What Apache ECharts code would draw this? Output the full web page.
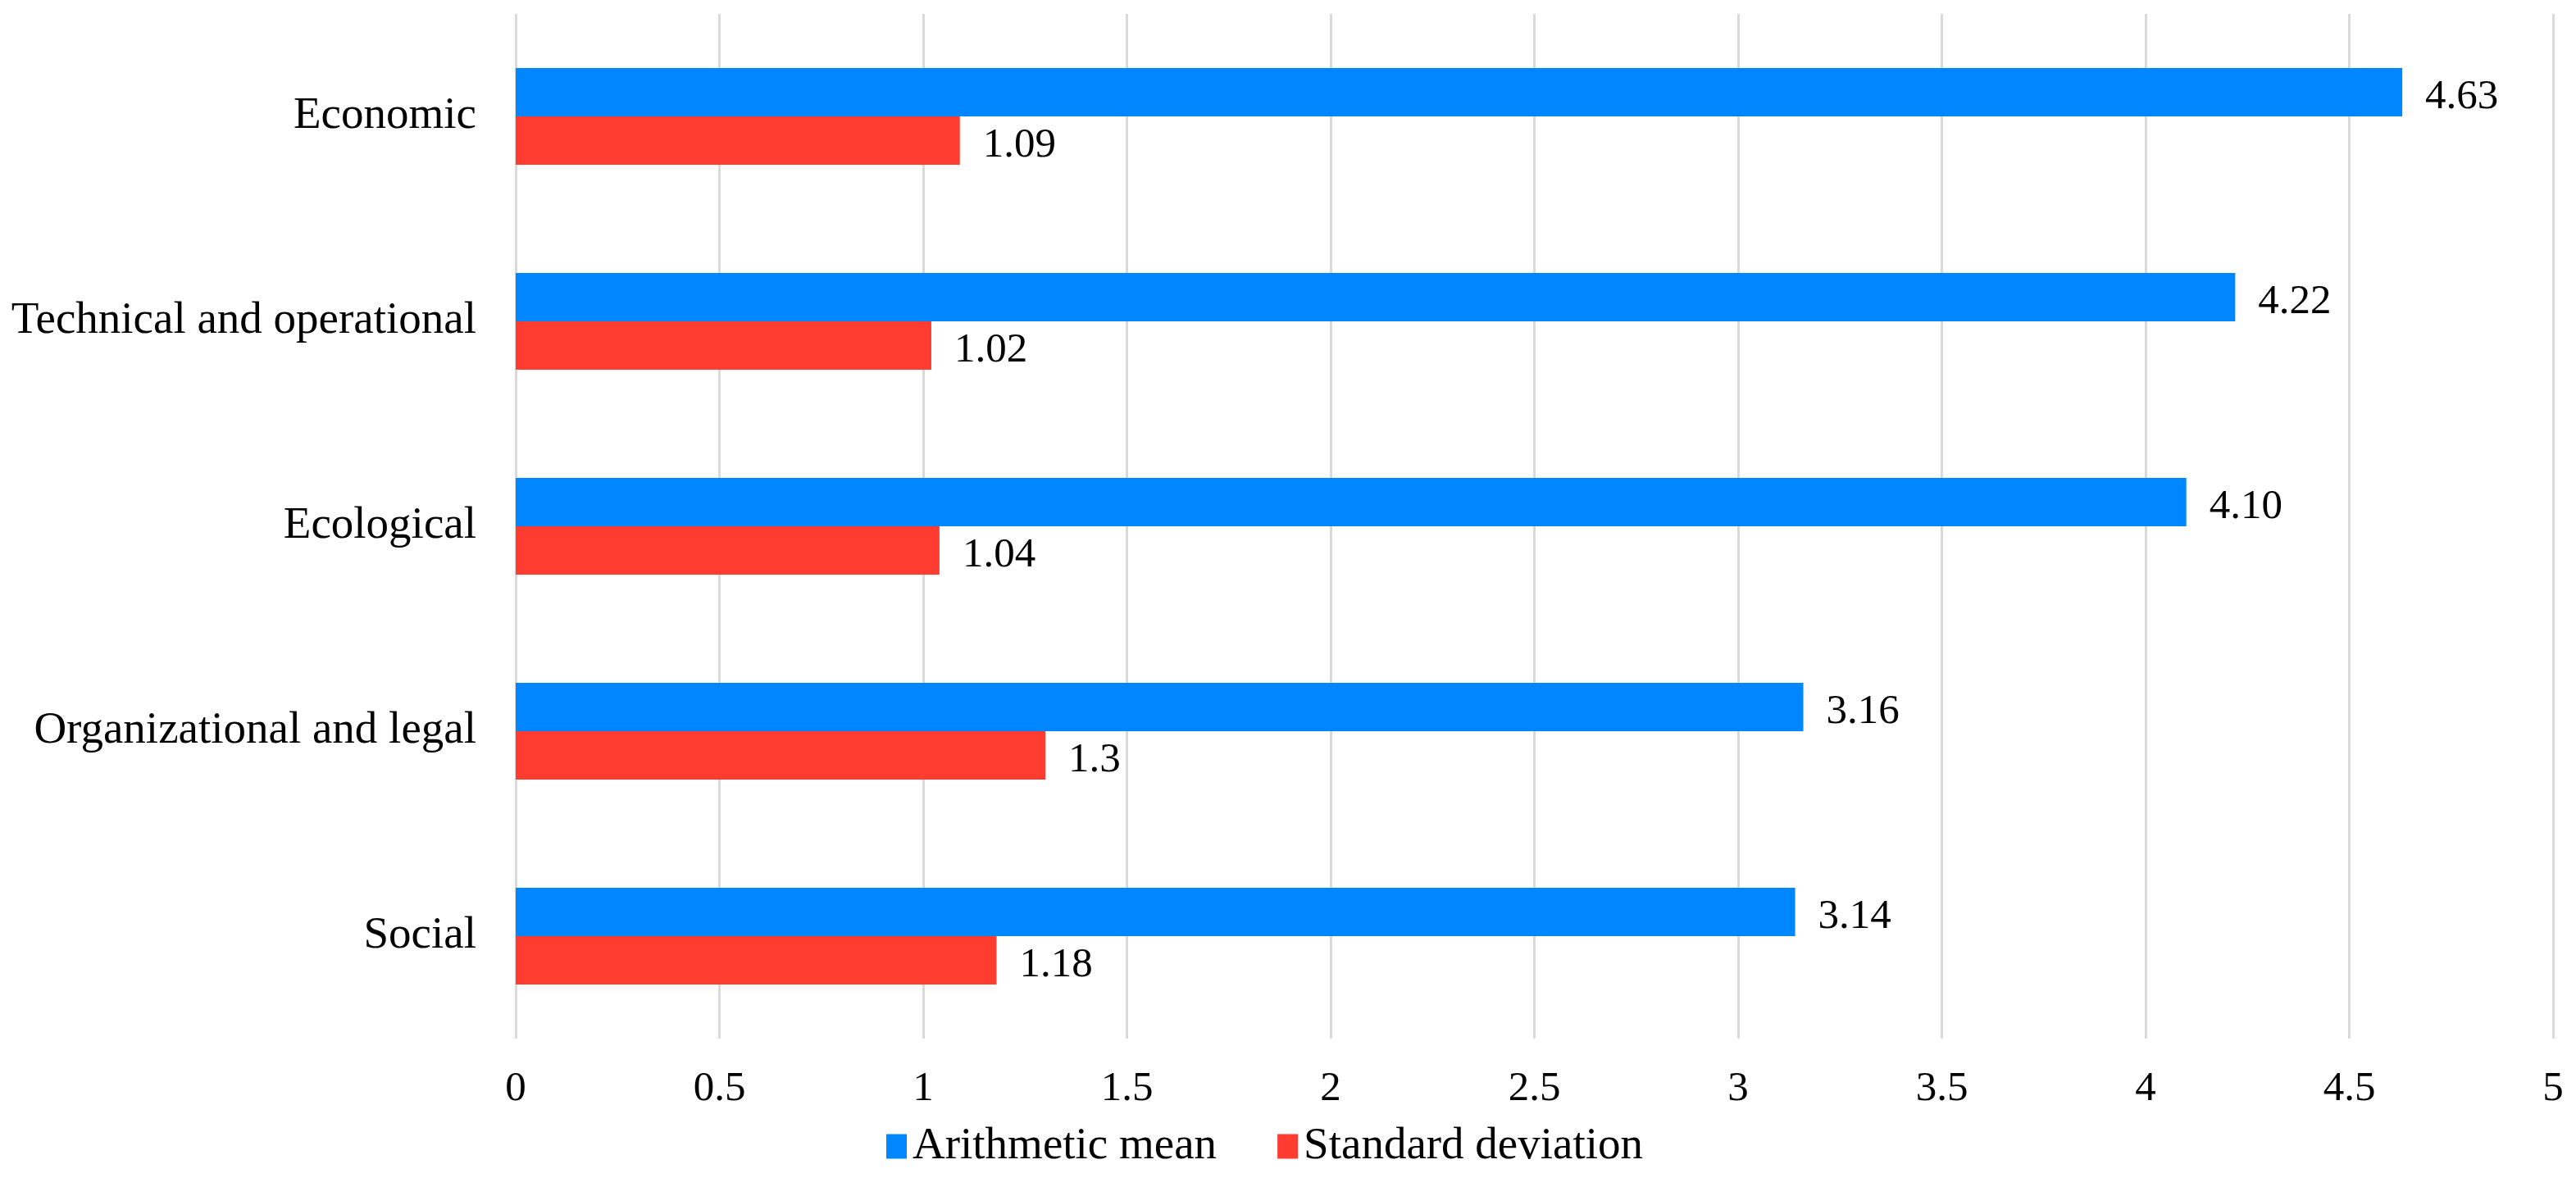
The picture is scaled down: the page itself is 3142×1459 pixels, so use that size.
<!DOCTYPE html>
<html>
<head>
<meta charset="utf-8">
<script src="https://cdn.jsdelivr.net/npm/echarts@6/dist/echarts.min.js"></script>
<style>html,body{margin:0;padding:0;background:#fff;}#c{width:3142px;height:1459px;}</style>
</head>
<body>
<div id="c"></div>
<script>
const categories = ['Economic', 'Technical and operational', 'Ecological', 'Organizational and legal', 'Social'];
const meanValues = [4.63, 4.22, 4.10, 3.16, 3.14];
const sdValues = [1.09, 1.02, 1.04, 1.3, 1.18];
const xTicks = { min: 0, max: 5, interval: 0.5 };

const FONT = 'Liberation Serif';
const chart = echarts.init(document.getElementById('c'));
chart.setOption({
  animation: false,
  backgroundColor: '#fff',
  grid: { left: 629, right: 28, top: 17, bottom: 192, containLabel: false },
  xAxis: {
    type: 'value', min: xTicks.min, max: xTicks.max, interval: xTicks.interval,
    axisLine: { show: false }, axisTick: { show: false },
    splitLine: { show: true, lineStyle: { color: '#d9d9d9', width: 3 } },
    axisLabel: { fontFamily: FONT, fontSize: 51, color: '#000', margin: 36 }
  },
  yAxis: {
    type: 'category', data: categories, inverse: true,
    axisLine: { show: false }, axisTick: { show: false },
    axisLabel: { fontFamily: FONT, fontSize: 55, color: '#000', margin: 48 }
  },
  legend: {
    left: 1076, top: 1366, itemWidth: 25, itemHeight: 30, itemGap: 74,
    icon: 'rect',
    textStyle: { fontFamily: FONT, fontSize: 55, color: '#000', padding: [0,0,0,2] },
    data: ['Arithmetic mean', 'Standard deviation']
  },
  series: [
    {
      name: 'Arithmetic mean', type: 'bar', data: meanValues, barWidth: 59, barGap: '0%',
      itemStyle: { color: '#0086FF' },
      label: { show: true, position: 'right', distance: 28, offset: [0, 6], fontFamily: FONT, fontSize: 51, color: '#000',
        formatter: p => p.value.toFixed(2) }
    },
    {
      name: 'Standard deviation', type: 'bar', data: sdValues, barWidth: 59, barGap: '0%',
      itemStyle: { color: '#FF3C2F' },
      label: { show: true, position: 'right', distance: 28, offset: [0, 6], fontFamily: FONT, fontSize: 51, color: '#000',
        formatter: p => String(p.value) }
    }
  ]
});
</script>
</body>
</html>
